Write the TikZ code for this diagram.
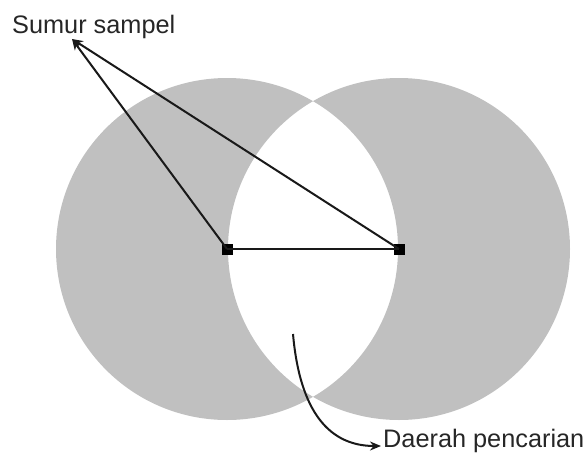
\documentclass[tikz,border=0pt]{standalone}
\usepackage{fontspec}
\setmainfont{Liberation Sans}
\usetikzlibrary{arrows.meta}
\definecolor{zonegray}{RGB}{192,192,192}
\tikzset{
  well/.style={fill=black,minimum size=11pt,inner sep=0pt,draw=none},
  conn/.style={line width=2pt,black!90},
  arr/.style={conn,-{Stealth[length=11pt,width=9pt]}},
  lbl/.style={font=\fontsize{25.3}{30}\selectfont,inner sep=0pt,text=black!85}
}
\begin{document}
\begin{tikzpicture}[x=1pt,y=-1pt]
\useasboundingbox (0,0) rectangle (587,453);
\fill[zonegray,even odd rule] (227,249) circle (171) (399,249) circle (171);
\node[well] (s1) at (227,249) {};
\node[well] (s2) at (399,249) {};
\node[lbl,anchor=base west] (sumur) at (12,33) {Sumur sampel};
\node[lbl,anchor=base west] (daerah) at (383,447) {Daerah pencarian};
\coordinate (tipS) at (72,39);
\coordinate (cstart) at (293,334);
\coordinate (tipD) at (381,446);
\draw[conn] (s1.center) -- (s2.center);
\draw[arr] (s1.center) -- (tipS);
\draw[arr] (s2.center) -- (tipS);
\draw[arr] (cstart) .. controls (300,413) and (330,446) .. (tipD);
\end{tikzpicture}
\end{document}
